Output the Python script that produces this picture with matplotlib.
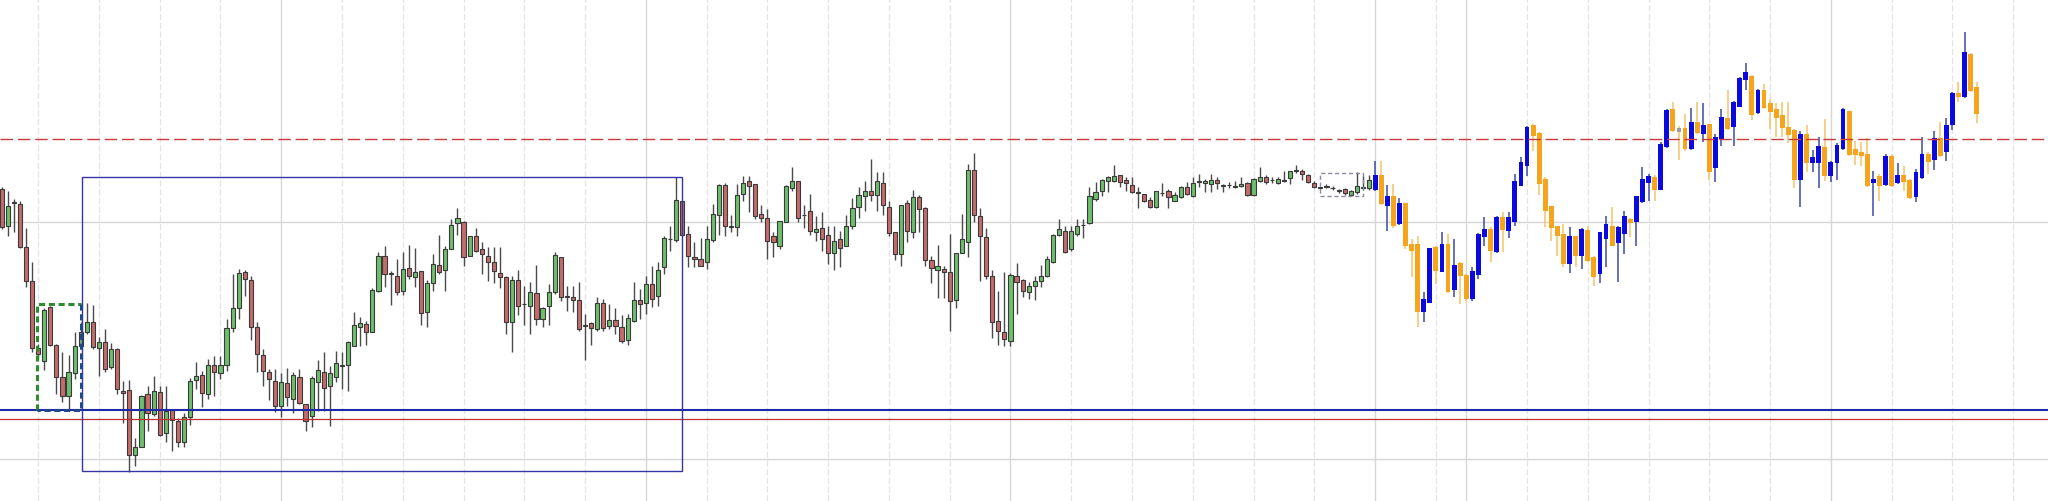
import matplotlib
matplotlib.use("Agg")
import matplotlib.pyplot as plt
from matplotlib.patches import Rectangle
import numpy as np

# OHLC per candle (chart price units, no axis shown)
OPEN = [
    936, 824, 898, 891, 763, 659, 458, 419, 581, 469, 373, 316, 384, 466, 506, 538, 458, 478, 403, 455,
    331, 333, 138, 163, 321, 260, 326, 203, 273, 241, 178, 251, 363, 378, 321, 408, 384, 408, 519, 578,
    686, 663, 521, 439, 386, 361, 284, 353, 306, 371, 291, 254, 356, 386, 346, 373,
    407, 408, 466, 521, 531, 506, 631, 736, 684, 676, 631, 698, 673, 691, 568, 653, 708, 694, 756, 833,
    838, 736, 794, 756, 736, 718, 683, 673, 538, 663, 592, 584, 623, 546, 584, 626, 731, 615, 611, 603,
    527, 534, 516, 594, 526, 543, 523, 484, 541, 603, 594, 651, 616, 701, 785, 784, 901, 801,
    733, 726, 718, 784, 858, 948, 825, 823, 921, 959, 951, 861, 848, 796, 766, 836, 938, 959, 859, 869,
    806, 819, 798, 744, 786, 766, 826, 881, 916, 931, 918, 954, 881, 806, 741, 894, 806, 913, 878, 723,
    694, 696, 686, 604, 743, 776, 993, 856, 791, 676, 539, 508, 479, 676, 663, 626,
    644, 661, 674, 716, 798, 809, 756, 801, 827, 834, 906, 931, 959, 961, 979, 964, 948, 927, 921, 904,
    881, 923, 931, 901, 911, 941, 916, 958, 953, 951, 964, 944, 947, 945, 944, 953, 918, 959, 973, 962,
    954, 960, 968, 990, 991, 979, 954, 942, 943, 940, 932, 936, 919, 926, 940, 939,
    934, 978, 886, 916, 831, 893, 771, 771, 566, 594, 761, 688, 771, 633, 714, 678, 606, 679, 793, 816,
    748, 851, 809, 838, 946, 1006, 1128, 1103, 966, 884, 824, 801, 711, 794, 736, 813, 731, 681, 786, 824,
    773, 801, 846, 836, 896, 954, 971, 934, 1061, 1176, 1118, 1118, 1056, 1138, 1101,
    1131, 998, 1086, 1149, 1121, 1183, 1263, 1276, 1163, 1234, 1194, 1176, 1159, 1123, 1113, 964, 1101, 1014, 1013, 1061,
    974, 1013, 1056, 1171, 1056, 1048, 1041, 953, 976, 948, 1036, 954, 979, 963, 911, 968, 1041, 1023, 1088, 1046,
    1128, 1224, 1211, 1341, 1241,
]
HIGH = [
    941, 931, 906, 901, 819, 718, 471, 578, 584, 471, 448, 438, 506, 536, 593, 588, 491, 516, 474, 458,
    361, 363, 188, 318, 344, 374, 346, 346, 273, 248, 264, 368, 416, 391, 426, 436, 434, 546, 681, 696,
    694, 674, 536, 456, 396, 396, 384, 398, 388, 396, 291, 376, 424, 446, 406, 451,
    446, 481, 568, 551, 541, 638, 746, 766, 691, 726, 746, 768, 758, 691, 663, 741, 798, 766, 846, 878,
    841, 794, 818, 776, 761, 761, 763, 676, 676, 694, 644, 656, 708, 581, 651, 746, 731, 646, 646, 656,
    561, 536, 611, 606, 591, 578, 558, 561, 656, 636, 676, 706, 718, 794, 824, 971, 901, 824,
    776, 788, 824, 891, 951, 954, 858, 951, 976, 976, 951, 888, 876, 808, 841, 948, 1001, 959, 888, 921,
    856, 866, 824, 824, 811, 858, 908, 941, 961, 1026, 986, 986, 901, 806, 888, 904, 933, 918, 881, 736,
    768, 706, 801, 744, 861, 1011, 1044, 879, 818, 693, 631, 686, 684, 714, 666, 656,
    676, 708, 736, 801, 846, 826, 826, 846, 846, 941, 958, 966, 976, 1009, 979, 971, 971, 941, 921, 913,
    931, 953, 936, 926, 946, 958, 973, 981, 966, 981, 971, 951, 956, 959, 971, 956, 968, 1003, 979, 971,
    971, 991, 991, 1009, 996, 981, 961, 943, 951, 946, 936, 938, 933, 986, 976, 979,
    1021, 1021, 948, 951, 908, 893, 786, 796, 626, 758, 766, 808, 801, 786, 716, 681, 701, 803, 851, 821,
    854, 868, 866, 981, 1031, 1126, 1131, 1108, 971, 886, 826, 831, 821, 796, 818, 826, 736, 808, 856, 881,
    824, 871, 849, 916, 1001, 981, 978, 1076, 1176, 1198, 1126, 1161, 1178, 1196, 1194,
    1131, 1101, 1176, 1233, 1201, 1271, 1314, 1278, 1236, 1251, 1206, 1194, 1198, 1198, 1116, 1111, 1128, 1053, 1091, 1146,
    1021, 1074, 1178, 1171, 1081, 1076, 1088, 991, 981, 1041, 1041, 1014, 1006, 966, 996, 1091, 1048, 1111, 1138, 1148,
    1228, 1258, 1406, 1343, 1258,
]
LOW = [
    816, 794, 808, 758, 641, 448, 426, 393, 464, 321, 296, 271, 366, 456, 501, 456, 376, 386, 396, 321,
    234, 88, 106, 161, 211, 256, 196, 176, 151, 161, 161, 228, 336, 283, 306, 314, 366, 391, 508, 546,
    614, 484, 388, 344, 304, 268, 251, 286, 264, 291, 211, 221, 271, 271, 226, 356,
    336, 331, 466, 466, 468, 506, 626, 641, 589, 619, 619, 666, 641, 529, 521, 631, 681, 629, 756, 798,
    706, 734, 746, 681, 661, 653, 638, 501, 448, 559, 529, 501, 528, 521, 529, 621, 599, 571, 566, 509,
    424, 468, 511, 511, 516, 501, 474, 468, 538, 546, 561, 581, 586, 681, 751, 776, 796, 701,
    701, 704, 696, 776, 798, 796, 808, 796, 901, 866, 846, 836, 726, 731, 756, 836, 931, 836, 818, 798,
    779, 751, 711, 694, 703, 764, 816, 848, 871, 901, 871, 858, 796, 724, 706, 776, 788, 806, 706, 654,
    609, 609, 509, 578, 743, 733, 838, 659, 666, 488, 468, 464, 466, 561, 611, 606,
    604, 641, 671, 714, 794, 744, 751, 796, 788, 831, 901, 916, 926, 958, 941, 931, 924, 878, 896, 879,
    879, 916, 878, 899, 908, 918, 911, 941, 926, 928, 936, 928, 938, 938, 941, 916, 916, 958, 951, 954,
    951, 958, 951, 983, 964, 954, 938, 936, 938, 933, 924, 918, 916, 921, 936, 934,
    931, 888, 811, 818, 828, 756, 671, 521, 538, 594, 651, 686, 624, 611, 591, 601, 601, 666, 766, 716,
    744, 746, 788, 826, 944, 976, 1051, 918, 823, 779, 736, 701, 684, 703, 696, 716, 646, 654, 701, 764,
    658, 741, 791, 766, 894, 901, 901, 934, 1058, 1106, 1024, 1051, 1054, 1101, 1076,
    964, 958, 1064, 1113, 1064, 1181, 1234, 1144, 1161, 1176, 1116, 1091, 1091, 1074, 938, 881, 988, 988, 938, 959,
    958, 963, 1054, 1036, 1008, 1006, 941, 856, 901, 946, 941, 951, 931, 906, 898, 966, 981, 994, 1031, 1021,
    1113, 1196, 1208, 1228, 1134,
]
CLOSE = [
    821, 886, 894, 761, 659, 458, 441, 573, 468, 373, 316, 388, 466, 508, 538, 461, 478, 396, 455, 336,
    324, 138, 163, 316, 263, 331, 199, 269, 243, 178, 251, 361, 376, 323, 408, 386, 408, 519, 578, 684,
    666, 523, 441, 391, 366, 284, 356, 311, 378, 294, 241, 368, 394, 338, 384, 414,
    405, 476, 528, 534, 506, 633, 734, 681, 682, 628, 696, 676, 686, 563, 653, 711, 686, 756, 829, 848,
    731, 794, 751, 741, 718, 691, 673, 538, 663, 586, 590, 626, 546, 578, 626, 738, 613, 613, 604, 516,
    525, 518, 594, 518, 543, 526, 479, 549, 603, 591, 651, 606, 693, 788, 787, 903, 799, 734,
    726, 706, 786, 861, 948, 826, 823, 919, 954, 946, 854, 848, 779, 776, 839, 944, 959, 848, 857, 809,
    816, 786, 744, 779, 758, 824, 878, 919, 931, 918, 959, 888, 804, 741, 888, 811, 911, 876, 723, 698,
    704, 686, 599, 743, 786, 993, 858, 794, 676, 538, 509, 486, 678, 658, 629, 644,
    660, 676, 726, 799, 816, 748, 811, 826, 829, 916, 926, 963, 971, 974, 958, 953, 928, 925, 901, 881,
    929, 925, 911, 918, 941, 921, 953, 960, 961, 964, 953, 949, 949, 943, 951, 919, 966, 971, 956, 964,
    966, 962, 989, 992, 981, 958, 941, 940, 945, 938, 930, 923, 929, 944, 942, 963,
    978, 891, 916, 826, 893, 766, 751, 566, 606, 758, 691, 771, 628, 709, 676, 606, 689, 801, 816, 751,
    851, 813, 851, 959, 1016, 1123, 1096, 951, 871, 819, 794, 711, 796, 736, 816, 721, 671, 806, 831, 766,
    823, 854, 833, 914, 966, 974, 934, 1071, 1173, 1109, 1108, 1056, 1138, 1103, 1128,
    988, 1091, 1151, 1116, 1196, 1268, 1286, 1159, 1234, 1178, 1168, 1148, 1118, 1099, 964, 1101, 1014, 1031, 1066, 974,
    1016, 1068, 1176, 1039, 1039, 1034, 946, 966, 946, 1036, 946, 979, 956, 909, 988, 1041, 1018, 1088, 1034, 1128,
    1224, 1211, 1346, 1231, 1161,
]

SWITCH_AT = 226          # from this candle on, blue/orange colouring
GRAY_CANDLES = [276]     # single neutral candle

# horizontal levels
RESIST = 1086            # red dashed
SUPPORT_BLUE = 274.5
SUPPORT_RED = 246
HGRID = [837, 126]

# vertical grid (candle positions); solid = session separators
VGRID = list(range(6, 237, 10)) + list(range(241, 332, 10))
VGRID_SOLID = [46, 106, 166, 226, 241, 301]

# drawn zones: (x0, x1, y0, y1)
BIG_BOX = (13.16, 111.95, 89, 972)
GREEN_BOX = (5.86, 13.05, 273, 591)
GRAY_BOX = (216.9, 223.96, 916, 984)

C_UP = "#6cbf6c"
C_DN = "#c46b6b"
C_EDGE = "#3a3a3a"
C_BLUE = "#0a0ae0"
C_ORANGE = "#f5a41c"

o = np.array(OPEN, float)
h = np.array(HIGH, float)
l = np.array(LOW, float)
c = np.array(CLOSE, float)
n = len(o)
x = np.arange(n)

fig = plt.figure(figsize=(20.48, 5.02), dpi=100)
ax = fig.add_axes([0, 0, 1, 1])
ax.set_xlim(-0.28, 336.73)
ax.set_ylim(0, 1506)
ax.axis("off")

for g in VGRID:
    if g in VGRID_SOLID:
        ax.axvline(g, color="#d6d6d6", lw=1.0, zorder=0)
    else:
        ax.axvline(g, color="#e4e4e4", lw=0.9, ls=(0, (5, 2)), zorder=0)
for y in HGRID:
    ax.axhline(y, color="#d6d6d6", lw=1.0, zorder=0)

up = c >= o
body_lo = np.minimum(o, c)
body_h = np.maximum(np.abs(c - o), 2)

old = x < SWITCH_AT
new = ~old

# classic candles
wick_old = "#4a4a4a"
ax.vlines(x[old], np.minimum(l, body_lo)[old], np.maximum(h, body_lo + body_h)[old],
          color=wick_old, lw=1.0, zorder=2)
ax.bar(x[old], body_h[old], 0.68, bottom=body_lo[old],
       color=np.where(up[old], C_UP, C_DN), edgecolor=C_EDGE, lw=0.8, zorder=3)

# blue/orange candles
wick_cols = np.where(up[new], "#3a4aa8", "#f2c468")
ax.vlines(x[new], l[new], h[new], colors=wick_cols, lw=1.1, zorder=2)
body_cols = np.where(up[new], C_BLUE, C_ORANGE).astype(object)
for k in GRAY_CANDLES:
    body_cols[k - SWITCH_AT] = "#9a9aa8"
ax.bar(x[new], body_h[new], 0.8, bottom=body_lo[new],
       color=list(body_cols), lw=0, zorder=3)

# levels
ax.axhline(RESIST, color="#cc3a3a", lw=1.0, ls=(0, (9, 3.5)), zorder=4)
ax.axhline(SUPPORT_BLUE, color="#1c2aa8", lw=1.5, zorder=4)
ax.axhline(SUPPORT_RED, color="#c03030", lw=0.9, zorder=4)

# zones
x0, x1, y0, y1 = BIG_BOX
ax.add_patch(Rectangle((x0, y0), x1 - x0, y1 - y0, fill=False,
                       edgecolor="#3535a5", lw=1.0, zorder=5))
x0, x1, y0, y1 = GREEN_BOX
ax.plot([x0, x0, x1], [y0, y1, y1], color="#2e8b2e", lw=2.2,
        ls=(0, (2, 1.2)), zorder=5)
ax.plot([x1, x1, x0], [y1, y0, y0], color="#1f4a8a", lw=2.2,
        ls=(0, (2, 1.2)), zorder=5)
x0, x1, y0, y1 = GRAY_BOX
ax.add_patch(Rectangle((x0, y0), x1 - x0, y1 - y0, fill=False,
                       edgecolor="#8a8aa0", lw=1.0, ls=(0, (3, 2)), zorder=5))

fig.savefig("out.png", dpi=100)
